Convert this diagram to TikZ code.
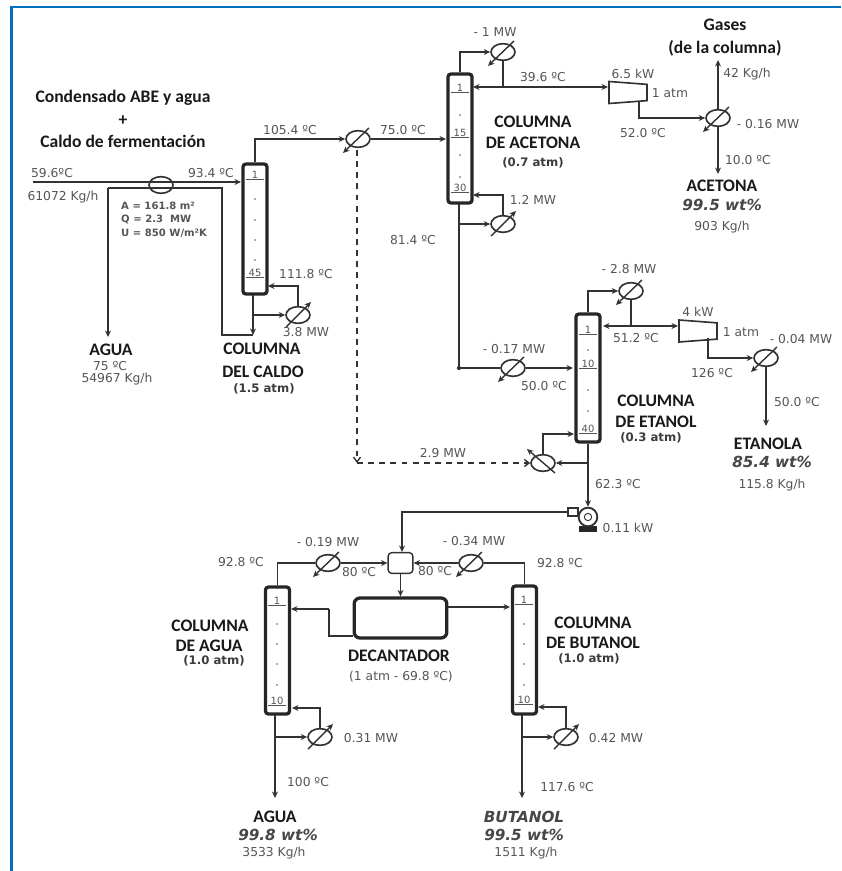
\documentclass[tikz,border=0pt]{standalone}
\usepackage{fontspec}
\setmainfont{DejaVu Sans}
\newfontfamily\headfont{Carlito}
\usepackage{xcolor}
\usepackage{tikz}
\usetikzlibrary{shapes.geometric, arrows.meta, calc}
\definecolor{frameblue}{RGB}{0, 112, 192}
\definecolor{linegray}{RGB}{50, 50, 50}
\definecolor{textgray}{RGB}{85, 85, 85}
\definecolor{headblack}{RGB}{25, 25, 25}

\begin{document}
\begin{tikzpicture}[
    x=0.03cm, y=-0.03cm,
    col/.style={draw=black!85, line width=2.8pt, rounded corners=2.5pt, minimum width=0.72cm, inner sep=0pt},
    tank/.style={draw=black!85, line width=2.8pt, rounded corners=5pt, minimum width=2.78cm, minimum height=1.2cm},
    mixer/.style={draw=linegray, line width=1.2pt, rounded corners=3pt, minimum width=0.74cm, minimum height=0.62cm},
    flow/.style={-{Stealth[length=5.5pt,width=5pt]}, line width=1.2pt, linegray},
    flowboth/.style={{Stealth[length=5.5pt,width=5pt]}-{Stealth[length=5.5pt,width=5pt]}, line width=1.2pt, linegray},
    pipe/.style={line width=1.2pt, linegray},
    util/.style={-{Straight Barb[length=4pt,width=6pt]}, line width=1.2pt, linegray, dash pattern=on 5pt off 4.5pt},
    hx/.style={ellipse, draw=linegray, line width=1.4pt, minimum width=0.72cm, minimum height=0.5cm, inner sep=0pt},
    hxcool/.style={hx, append after command={($(\tikzlastnode.center)+(11,-11)$) edge[flow] ($(\tikzlastnode.center)+(-15,14)$)}},
    hxheat/.style={hx, append after command={($(\tikzlastnode.center)+(-12,12)$) edge[flow] ($(\tikzlastnode.center)+(13,-13)$)}},
    hxback/.style={hx, append after command={($(\tikzlastnode.center)+(12,10)$) edge[flow] ($(\tikzlastnode.center)+(-16,-14)$)}},
    comp/.style={trapezium, draw=linegray, line width=1.4pt, shape border rotate=270, trapezium stretches=true,
                 trapezium angle=80, minimum width=0.66cm, minimum height=1.14cm, inner sep=1pt},
    tray/.style={font=\fontsize{8.5}{9}\selectfont, text=textgray, inner sep=0pt, minimum width=0.5cm,
                 append after command={(\tikzlastnode.south west) edge[draw=textgray, line width=0.6pt] (\tikzlastnode.south east)}},
    traydot/.style={circle, fill=textgray, minimum size=1.6pt, inner sep=0pt},
    lbl/.style={font=\fontsize{10.5}{12}\selectfont, text=textgray, inner sep=0pt},
    spec/.style={font=\fontsize{8.6}{10}\selectfont\bfseries, text=textgray, inner sep=0pt, anchor=west},
    head/.style={font=\headfont\fontsize{15}{16}\selectfont\bfseries, text=headblack, inner sep=0pt},
    press/.style={font=\fontsize{10}{12}\selectfont\bfseries, text=textgray!70!black, inner sep=0pt},
    purity/.style={font=\fontsize{13}{15}\selectfont\bfseries\itshape, text=headblack!80, inner sep=0pt}
]
    \useasboundingbox (0,0) rectangle (841,871);
    \draw[frameblue, line width=2.3pt] (841,7) -- (11.5,7) -- (11.5,871);

    % columnas
    \node[col, minimum height=3.9cm] (caldo) at (255,229) {};
    \node[col, minimum height=3.87cm] (acet) at (460,138.5) {};
    \node[col, minimum height=3.84cm] (etan) at (588,378) {};
    \node[col, minimum height=3.81cm] (aguac) at (277.5,650.5) {};
    \node[col, minimum height=3.84cm] (buta) at (524.5,650) {};
    \node[tank] (decant) at (400.5,618) {};
    \node[mixer] (mix) at (400.5,563) {};

    % platos
    \node[tray] (c1) at (255,175) {1};
    \node[tray] (c45) at (255,273) {45};
    \foreach \y in {199,220,240,260} \node[traydot] at (255,\y) {};
    \node[tray] (a1) at (460,88) {1};
    \node[tray] (a15) at (460,133) {15};
    \node[tray] (a30) at (460,188) {30};
    \foreach \y in {115,155,177} \node[traydot] at (460,\y) {};
    \node[tray] (e1) at (588,330) {1};
    \node[tray] (e10) at (588,364) {10};
    \node[tray] (e40) at (588,429) {40};
    \foreach \y in {350,390,411} \node[traydot] at (588,\y) {};
    \node[tray] (w1) at (277,601) {1};
    \node[tray] (w10) at (277,701) {10};
    \foreach \y in {624,644,664,685} \node[traydot] at (277,\y) {};
    \node[tray] (b1) at (524,600) {1};
    \node[tray] (b10) at (524,700) {10};
    \foreach \y in {624,644,664,685} \node[traydot] at (524,\y) {};

    % intercambiadores
    \node[hx] (hxfeed) at (161,185) {};
    \node[hxcool] (hxtop) at (358,139) {};
    \node[hxheat] (hxcr) at (298,315) {};
    \node[hxcool] (hxac) at (503,52) {};
    \node[hxheat] (hxar) at (503,224) {};
    \node[hxcool] (hxgas) at (718,118) {};
    \node[hxcool] (hxef) at (513,368) {};
    \node[hxcool] (hxec) at (631,291) {};
    \node[hxcool] (hxeo) at (766,358) {};
    \node[hxback] (hxer) at (543,463) {};
    \node[hxcool] (hxwc) at (328,563) {};
    \node[hxcool] (hxbc) at (471,563) {};
    \node[hxheat] (hxwr) at (320,737) {};
    \node[hxheat] (hxbr) at (566,737) {};

    % compresores y bomba
    \node[comp] (comp1) at (628,92.5) {};
    \node[comp] (comp2) at (698,331) {};
    \node[fill=black!85, minimum width=0.55cm, minimum height=0.17cm, inner sep=0pt] (pumpbase) at (588,529) {};
    \node[circle, draw=linegray, fill=white, line width=1.6pt, minimum size=0.56cm, inner sep=0pt] (pump) at (588,517) {};
    \node[circle, draw=linegray, line width=0.8pt, minimum size=0.22cm, inner sep=0pt] (pumpeye) at (588,517) {};
    \node[draw=linegray, line width=1.6pt, fill=white, minimum width=0.3cm, minimum height=0.24cm, inner sep=0pt] (pumpout) at (573,512) {};

    % puntos libres
    \coordinate (feedin) at (33,182);
    \coordinate (feedout) at (241,182);
    \coordinate (retin) at (222,188);
    \coordinate (retturn) at (222,335);
    \coordinate (retleft) at (108,188);
    \coordinate (retend) at (108,337);
    \coordinate (cbot) at (253,295);
    \coordinate (cend) at (253,335);
    \coordinate (crin) at (253,315);
    \coordinate (crback) at (268,286);
    \coordinate (afeed) at (446,139);
    \coordinate (arin) at (459,224);
    \coordinate (arback) at (473,195);
    \coordinate (ahot) at (459,368);
    \coordinate (abot) at (459,204);
    \coordinate (aret) at (473,87);
    \coordinate (c1in) at (608,87);
    \coordinate (c1out) at (639,101);
    \coordinate (gasup) at (718,60);
    \coordinate (acend) at (718,174);
    \coordinate (efeed) at (573,368);
    \coordinate (eret) at (603,326);
    \coordinate (c2in) at (678,326);
    \coordinate (c2out) at (708,338);
    \coordinate (eback) at (574,434);
    \coordinate (erin) at (588,463);
    \coordinate (etend) at (766,426);
    \coordinate (dash1) at (357,150);
    \coordinate (dash2) at (357,463);
    \coordinate (pumpin) at (402,512);
    \coordinate (decl) at (353,636);
    \coordinate (decturn) at (329,609);
    \coordinate (wfeed) at (291,609);
    \coordinate (bfeed) at (510,607);
    \coordinate (decr) at (448,607);
    \coordinate (wrin) at (275,737);
    \coordinate (wrback) at (292,708);
    \coordinate (wend) at (275,798);
    \coordinate (wbot) at (275,715);
    \coordinate (brin) at (522,737);
    \coordinate (brback) at (538,707);
    \coordinate (bend) at (522,798);
    \coordinate (bbot) at (522,715);

    % corrientes
    \draw[flow] (feedin) -- (feedout);
    \draw[pipe] (retleft) -- (retin) -- (retturn) -- (cend);
    \draw[flow] (retleft) -- (retend);
    \draw[flow] (cbot) -- (cend);
    \draw[flow] (crin) -- (hxcr.west);
    \draw[flow] (hxcr.north) |- (crback);
    \draw[flow] (caldo.north) |- (hxtop.west);
    \draw[flow] (hxtop.east) -- (afeed);
    \draw[util] (dash1) -- (dash2);
    \draw[util] (dash2) -- (hxer.west);
    \draw[flow] (acet.north) |- (hxac.west);
    \draw[flowboth] (aret) -- (c1in);
    \draw[pipe] (hxac.south) -- (hxac.south |- aret);
    \draw[flow] (c1out) |- (hxgas.west);
    \draw[flow] (hxgas.north) -- (gasup);
    \draw[flow] (hxgas.south) -- (acend);
    \draw[flow] (arin) -- (hxar.west);
    \draw[flow] (hxar.north) |- (arback);
    \draw[pipe] (abot) -- (ahot);
    \fill[linegray] (ahot) circle (1.8pt);
    \draw[pipe] (ahot) -- (hxef.west);
    \draw[flow] (hxef.east) -- (efeed);
    \draw[flow] (etan.north) |- (hxec.west);
    \draw[pipe] (hxec.south) -- (hxec.south |- eret);
    \draw[flowboth] (eret) -- (c2in);
    \draw[flow] (c2out) |- (hxeo.west);
    \draw[flow] (hxeo.south) -- (etend);
    \draw[flow] (erin) -- (hxer.east);
    \draw[flow] (hxer.north) |- (eback);
    \draw[flow] (etan.south) -- (pump.north);
    \draw[flow] (pumpout.west) -| (pumpin) -- (pumpin |- mix.north);
    \draw[pipe] (aguac.north) |- (hxwc.west);
    \draw[flow] (hxwc.east) -- (mix.west);
    \draw[pipe] (buta.north) |- (hxbc.east);
    \draw[flow] (hxbc.west) -- (mix.east);
    \draw[flow] (mix.south) -- (decant.north);
    \draw[pipe] (decl) -| (decturn);
    \draw[flow] (decturn) -- (wfeed);
    \draw[flow] (decr) -- (bfeed);
    \draw[flow] (wbot) -- (wend);
    \draw[flow] (wrin) -- (hxwr.west);
    \draw[flow] (hxwr.north) |- (wrback);
    \draw[flow] (bbot) -- (bend);
    \draw[flow] (brin) -- (hxbr.west);
    \draw[flow] (hxbr.north) |- (brback);

    % textos
    \node[head] (tfeed1) at (123,98) {Condensado ABE y agua};
    \node[head] (tfeed2) at (123,121) {+};
    \node[head] (tfeed3) at (123,141) {Caldo de fermentación};
    \node[lbl] (t596) at (52,173) {59.6ºC};
    \node[lbl] (t61072) at (63,197) {61072 Kg/h};
    \node[lbl] (t934) at (211,173) {93.4 ºC};
    \node[spec] (sa) at (121,206) {A = 161.8 m²};
    \node[spec] (sq) at (121,219) {Q = 2.3\ \ MW};
    \node[spec] (su) at (121,233) {U = 850 W/m²K};
    \node[head] (tagua) at (111,350) {AGUA};
    \node[lbl] (t75) at (110,366) {75 ºC};
    \node[lbl] (t54967) at (117,379) {54967 Kg/h};
    \node[head] (tcc1) at (262,349) {COLUMNA};
    \node[head] (tcc2) at (263,372) {DEL CALDO};
    \node[press] (tcc3) at (264,389) {(1.5 atm)};
    \node[lbl] (t1118) at (306,274) {111.8 ºC};
    \node[lbl] (t38) at (306,332) {3.8 MW};
    \node[lbl] (t1054) at (290,130) {105.4 ºC};
    \node[lbl] (t750) at (403,130) {75.0 ºC};

    \node[lbl] (tm1) at (495,32) {- 1 MW};
    \node[lbl] (t396) at (543,77) {39.6 ºC};
    \node[lbl] (t65) at (633,74) {6.5 kW};
    \node[lbl] (t1a) at (670,93) {1 atm};
    \node[lbl] (t520) at (643,133) {52.0 ºC};
    \node[head] (tgas1) at (725,25) {Gases};
    \node[head] (tgas2) at (725,48) {(de la columna)};
    \node[lbl] (t42) at (747,74) {42 Kg/h};
    \node[lbl] (tm016) at (768,124) {- 0.16 MW};
    \node[lbl] (t100) at (748,160) {10.0 ºC};
    \node[head] (tace) at (722,186) {ACETONA};
    \node[purity] (pace) at (722,205) {99.5 wt\%};
    \node[lbl] (t903) at (722,227) {903 Kg/h};
    \node[head] (tca1) at (533,122) {COLUMNA};
    \node[head] (tca2) at (533,143) {DE ACETONA};
    \node[press] (tca3) at (533,163) {(0.7 atm)};
    \node[lbl] (t12) at (533,200) {1.2 MW};
    \node[lbl] (t814) at (413,240) {81.4 ºC};

    \node[lbl] (tm017) at (514,349) {- 0.17 MW};
    \node[lbl] (t500) at (544,386) {50.0 ºC};
    \node[lbl] (tm28) at (629,269) {- 2.8 MW};
    \node[lbl] (t512) at (636,338) {51.2 ºC};
    \node[lbl] (t4) at (698,312) {4 kW};
    \node[lbl] (t1b) at (741,332) {1 atm};
    \node[lbl] (tm004) at (801,339) {- 0.04 MW};
    \node[lbl] (t126) at (712,373) {126 ºC};
    \node[lbl] (t500b) at (797,402) {50.0 ºC};
    \node[head] (tce1) at (656,401) {COLUMNA};
    \node[head] (tce2) at (656,422) {DE ETANOL};
    \node[press] (tce3) at (651,438) {(0.3 atm)};
    \node[head] (teta) at (768,444) {ETANOLA};
    \node[purity] (peta) at (772,462) {85.4 wt\%};
    \node[lbl] (t1158) at (772,485) {115.8 Kg/h};
    \node[lbl] (t29) at (443,453) {2.9 MW};
    \node[lbl] (t623) at (618,484) {62.3 ºC};
    \node[lbl] (t011) at (628,528) {0.11 kW};

    \node[lbl] (tm019) at (328,542) {- 0.19 MW};
    \node[lbl] (tm034) at (474,541) {- 0.34 MW};
    \node[lbl] (t80a) at (359,572) {80 ºC};
    \node[lbl] (t80b) at (435,571) {80 ºC};
    \node[lbl] (t928a) at (241,562) {92.8 ºC};
    \node[lbl] (t928b) at (560,563) {92.8 ºC};
    \node[head] (tcw1) at (210,626) {COLUMNA};
    \node[head] (tcw2) at (209,646) {DE AGUA};
    \node[press] (tcw3) at (214,661) {(1.0 atm)};
    \node[head] (tdec) at (399,656) {DECANTADOR};
    \node[lbl] (tdec2) at (401,677) {(1 atm - 69.8 ºC)};
    \node[head] (tcb1) at (593,623) {COLUMNA};
    \node[head] (tcb2) at (593,643) {DE BUTANOL};
    \node[press] (tcb3) at (589,659) {(1.0 atm)};
    \node[lbl] (t031) at (371,738) {0.31 MW};
    \node[lbl] (t042) at (616,738) {0.42 MW};
    \node[lbl] (t1000) at (308,782) {100 ºC};
    \node[lbl] (t1176) at (567,787) {117.6 ºC};
    \node[head] (tagua2) at (275,817) {AGUA};
    \node[purity] (pagua) at (278,835) {99.8 wt\%};
    \node[lbl] (t3533) at (274,853) {3533 Kg/h};
    \node[purity] (tbut) at (524,817) {BUTANOL};
    \node[purity] (pbut) at (524,835) {99.5 wt\%};
    \node[lbl] (t1511) at (526,853) {1511 Kg/h};
\end{tikzpicture}
\end{document}
